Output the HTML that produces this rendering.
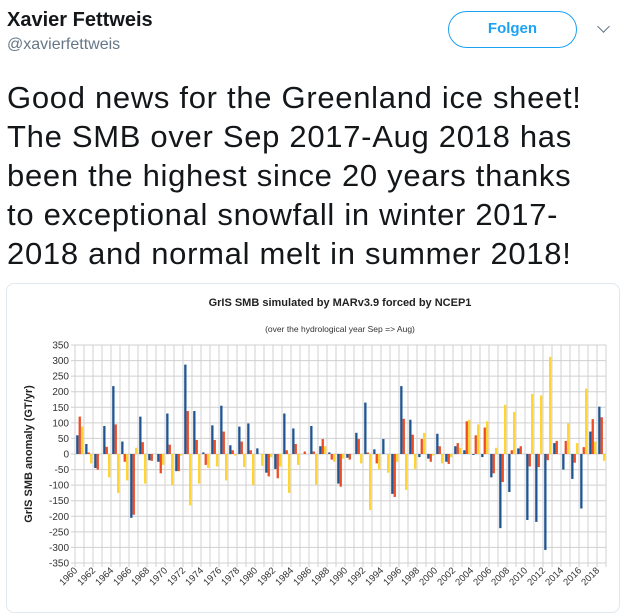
<!DOCTYPE html>
<html><head><meta charset="utf-8"><style>
body{margin:0;width:625px;height:600px;overflow:hidden;background:#fff;font-family:"Liberation Sans",sans-serif;position:relative}
.abs{position:absolute}
</style></head><body>
<div class="abs" style="left:7px;top:9px;font-size:20px;font-weight:bold;color:#14171a">Xavier Fettweis</div>
<div class="abs" style="left:7px;top:36px;font-size:16px;color:#657786">@xavierfettweis</div>
<div class="abs" style="left:448px;top:11px;width:129px;height:37px;box-sizing:border-box;border:1.5px solid #1da1f2;border-radius:19px;color:#1da1f2;font-weight:bold;font-size:15px;text-align:center;line-height:34px">Folgen</div>
<div class="abs" style="left:599px;top:22px;width:8px;height:8px;border-right:1.5px solid #657786;border-bottom:1.5px solid #657786;transform:rotate(45deg)"></div>
<div class="abs" style="left:7px;top:78px;white-space:nowrap;font-size:31px;letter-spacing:0.7px;line-height:39px;color:#14171a">Good news for the Greenland ice sheet!<br>The SMB over Sep 2017-Aug 2018 has<br>been the highest since 20 years thanks<br>to exceptional snowfall in winter 2017-<br>2018 and normal melt in summer 2018!</div>
<div class="abs" style="left:6px;top:283px;width:614px;height:330px;box-sizing:border-box;border:1px solid #e1e8ed;border-radius:8px"></div>
<svg class="abs" style="left:0;top:0" width="625" height="600">
<text x="340" y="306" text-anchor="middle" font-size="11" font-weight="bold" fill="#222">GrIS SMB simulated by MARv3.9 forced by NCEP1</text>
<text x="340" y="332" text-anchor="middle" font-size="8.5" fill="#333">(over the hydrological year Sep =&gt; Aug)</text>
<text transform="translate(32,454) rotate(-90)" text-anchor="middle" font-size="11" font-weight="bold" fill="#222">GrIS SMB anomaly (GT/yr)</text>
<g id="grid"></g><g id="bars"></g><g id="labels"></g>
</svg>
<script>
const years=[];for(let y=1960;y<=2018;y++)years.push(y);
const blue=[60,32,-45,90,218,40,-205,120,-20,-25,130,-55,287,138,5,92,155,28,88,98,18,-60,-48,130,82,0,90,25,5,-95,-12,68,165,15,48,-128,218,110,-10,-15,65,-25,25,12,-3,-10,-75,-238,-122,18,-212,-218,-308,35,-50,-80,-175,72,152];
const red=[120,5,-50,23,95,-25,-195,38,-22,-62,30,-55,138,45,-35,45,72,12,40,12,0,-72,-78,12,32,8,8,48,-18,-105,-18,48,5,-30,0,-138,113,62,48,-25,25,-32,35,105,60,85,-62,-90,12,25,-40,-42,-20,42,42,-28,22,112,118];
const yellow=[88,-30,0,-75,-125,-85,20,-95,0,-35,-100,-5,-165,-95,-45,-40,-85,-5,-42,-100,-38,-10,-40,-125,-35,0,-98,25,-25,-15,0,-30,-180,-50,-60,-25,-115,-48,68,-5,-30,-10,20,110,95,105,20,158,135,0,193,188,312,0,98,35,210,40,-22];
const yTicks=[350,300,250,200,150,100,50,0,-50,-100,-150,-200,-250,-300,-350];
const NS="http://www.w3.org/2000/svg";
const X0=75,X1=606,Y0=345,Y1=563,bw=(X1-X0)/years.length;
const ys=v=>Y0+(350-v)*(Y1-Y0)/700;
const xs=i=>X0+i*bw;
const grid=document.getElementById('grid'),bars=document.getElementById('bars'),lab=document.getElementById('labels');
function mk(tag,a,p){const e=document.createElementNS(NS,tag);for(const k in a)e.setAttribute(k,a[k]);p.appendChild(e);return e;}
yTicks.forEach(t=>{
 const l=mk('line',{x1:X0-4,x2:X1,y1:ys(t),y2:ys(t),stroke:'#d0d0d0','stroke-width':1},grid);
 
 
 const tx=mk('text',{x:X0-6,y:ys(t)+3.5,'text-anchor':'end','font-size':10,fill:'#333'},lab);
 tx.textContent=t;
 
 
});
for(let i=0;i<=years.length;i++){
 const l=mk('line',{x1:xs(i),x2:xs(i),y1:Y0,y2:Y1+4,stroke:'#d0d0d0','stroke-width':1},grid);
 
 
}
const series=[[blue,'#1f5591'],[red,'#ee4d24'],[yellow,'#ffd631']];
years.forEach((yr,i)=>{
 series.forEach(([arr,c],k)=>{
  const v=arr[i];const y=Math.min(ys(v),ys(0));const h=Math.abs(ys(v)-ys(0));
  const r=mk('rect',{x:xs(i)+1.2+k*2.4,y:y,width:2.3,height:Math.max(h,0.01),fill:c},bars);
  
  
 });
 if(i%2===0){
  const x=xs(i)+3,y=Y1+8;
  const t=mk('text',{x:x,y:y,'text-anchor':'end','font-size':9.5,fill:'#333',transform:`rotate(-45 ${x} ${y})`},lab);
  t.textContent=yr;
  
  
 }
});
</script>
</body></html>
